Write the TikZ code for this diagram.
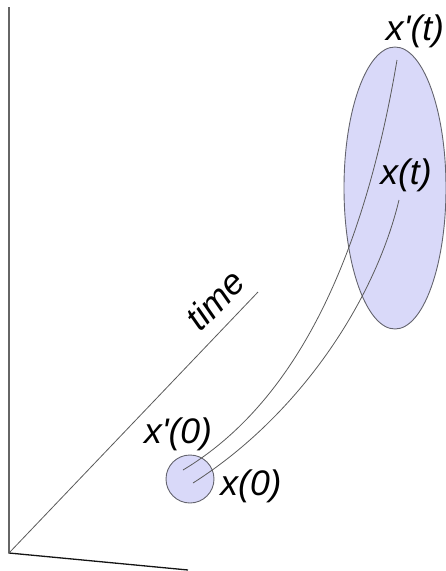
\documentclass[tikz,border=0pt]{standalone}
\usepackage{fontspec}
\usepackage{tikz}
\usepackage{xcolor}
\usetikzlibrary{shapes.geometric, positioning, calc}
\newfontfamily\labelfont{Liberation Sans}
\definecolor{phaseFill}{RGB}{217,217,249}
\definecolor{phaseEdge}{RGB}{100,100,110}
\definecolor{pathInk}{RGB}{90,90,90}
\definecolor{axisInk}{RGB}{20,20,20}

\begin{document}
\begin{tikzpicture}[x=1pt, y=-1pt,
      region/.style={draw=phaseEdge, fill=phaseFill, line width=0.9pt, inner sep=0pt},
      axis/.style={draw=axisInk, line width=1.3pt},
      traj/.style={draw=pathInk, line width=0.8pt},
      lbl/.style={inner sep=0pt, font=\labelfont\itshape\fontsize{35.5}{40}\selectfont}
    ]
    \useasboundingbox (0,0) rectangle (446,571);

    % axes
    \coordinate (origin) at (9,553);
    \coordinate (ytop) at (9,7);
    \coordinate (xend) at (188,570);
    \coordinate (tend) at (258,292);
    \draw[axis] (ytop) -- (origin) -- (xend);
    \draw[draw=pathInk, line width=0.8pt] (origin) -- (tend);
    \node[lbl, rotate=46] (timelbl) at (215,300) {time};

    % phase regions
    \node[region, circle, minimum size=48pt] (start) at (190,479) {};
    \node[region, ellipse, minimum width=102pt, minimum height=282pt] (later) at (395,188) {};

    % trajectories
    \coordinate (p0) at (183,470);
    \coordinate (q0) at (193,483);
    \coordinate (pt) at (397,60);
    \coordinate (qt) at (399,200);
    \draw[traj] (p0) .. controls (300,400) and (365,250) .. (pt);
    \draw[traj] (q0) .. controls (300,415) and (375,300) .. (qt);

    \node[lbl] (ptlbl) at (415,31) {x\textquotesingle(t)};
    \node[lbl] (qtlbl) at (406,175) {x(t)};
    \node[lbl] (p0lbl) at (178,434) {x\textquotesingle(0)};
    \node[lbl] (q0lbl) at (251,486) {x(0)};
  \end{tikzpicture}
\end{document}
